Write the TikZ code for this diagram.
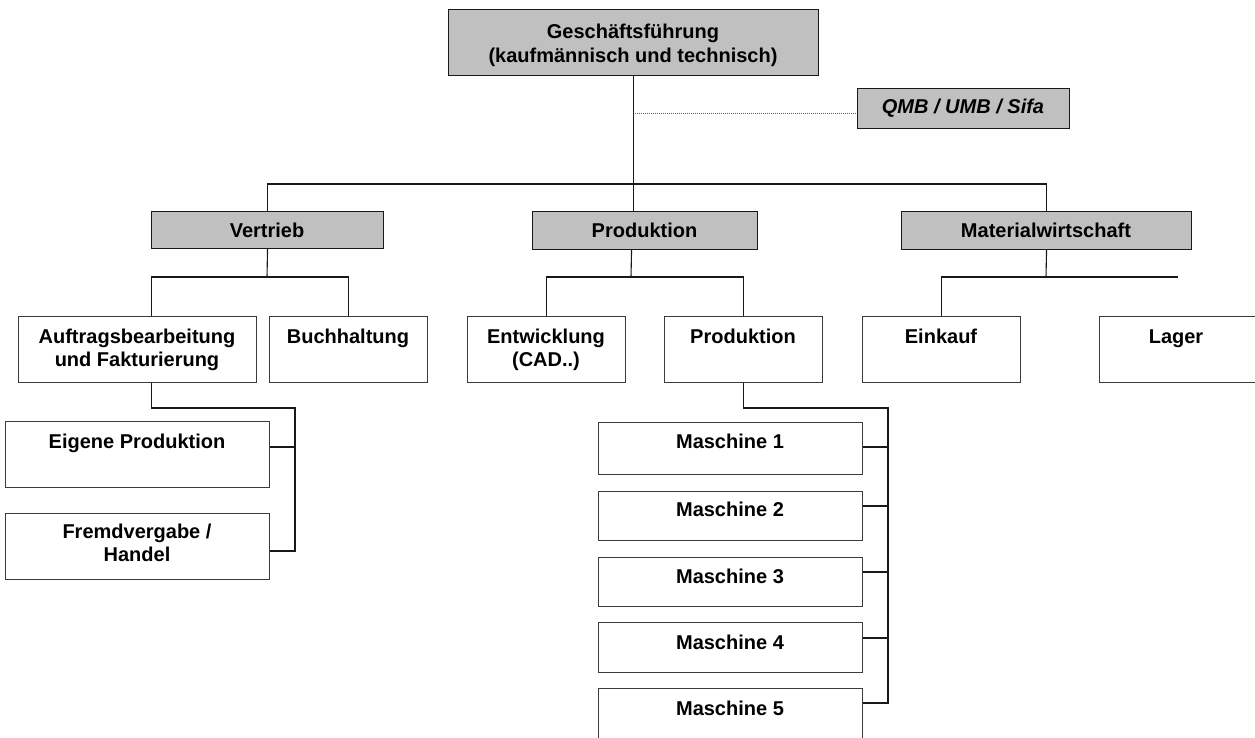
\documentclass[tikz,border=0pt]{standalone}
\usepackage{fontspec}
\setmainfont{Liberation Sans}
\definecolor{boxgray}{RGB}{192,192,192}
\definecolor{linec}{RGB}{25,25,25}
\tikzset{
  gbox/.style={draw=linec, fill=boxgray, line width=1.1pt, inner sep=0pt, anchor=north west},
  wbox/.style={draw=linec!85, fill=white, line width=1.1pt, inner sep=0pt, anchor=north west},
  txt/.style={anchor=north, inner sep=0pt, align=center, text=black,
    font=\fontsize{20}{23}\selectfont\bfseries},
  conn/.style={draw=linec, line width=1.1pt},
  dotline/.style={draw=linec!70, line width=0.9pt, dash pattern=on 1pt off 1pt},
}
\newcommand{\st}{\rule{0pt}{20pt}}
\begin{document}
\begin{tikzpicture}[x=1pt,y=-1pt]
\useasboundingbox (0,0) rectangle (1255,738);
\fill[white] (0,0) rectangle (1255,738);

% top
\node[gbox, minimum width=370pt, minimum height=66pt] (gf) at (448,9) {};
\node[txt] (gft) at (633,18) {\st Geschäftsführung\\[1pt](kaufmännisch und technisch)};
\node[gbox, minimum width=212pt, minimum height=40pt] (qmb) at (857,88) {};
\node[txt, font=\fontsize{20}{23}\selectfont\bfseries\itshape] (qmbt) at (963,93) {\st QMB / UMB / Sifa};

% level 2
\node[gbox, minimum width=232pt, minimum height=37pt] (vertrieb) at (151,211) {};
\node[txt] (vertriebt) at (267,217) {\st Vertrieb};
\node[gbox, minimum width=225pt, minimum height=38pt] (prod) at (532,211) {};
\node[txt] (prodt) at (644.5,217) {\st Produktion};
\node[gbox, minimum width=290pt, minimum height=38pt] (mat) at (901,211) {};
\node[txt] (matt) at (1046,217) {\st Materialwirtschaft};

% level 3
\node[wbox, minimum width=238pt, minimum height=66pt] (auftrag) at (18,316) {};
\node[txt] (auftragt) at (137,323) {\st Auftragsbearbeitung\\und Fakturierung};
\node[wbox, minimum width=158pt, minimum height=66pt] (buch) at (269,316) {};
\node[txt] (bucht) at (348,323) {\st Buchhaltung};
\node[wbox, minimum width=158pt, minimum height=66pt] (entw) at (467,316) {};
\node[txt] (entwt) at (546,323) {\st Entwicklung\\(CAD..)};
\node[wbox, minimum width=158pt, minimum height=66pt] (prod2) at (664,316) {};
\node[txt] (prod2t) at (743,323) {\st Produktion};
\node[wbox, minimum width=158pt, minimum height=66pt] (einkauf) at (862,316) {};
\node[txt] (einkauft) at (941,323) {\st Einkauf};
\node[wbox, minimum width=162pt, minimum height=66pt] (lager) at (1099,316) {};
\node[txt] (lagert) at (1176,323) {\st Lager};

% level 4 left
\node[wbox, minimum width=264pt, minimum height=66pt] (eigene) at (5,421) {};
\node[txt] (eigenet) at (137,428) {\st Eigene Produktion};
\node[wbox, minimum width=264pt, minimum height=66pt] (fremd) at (5,513) {};
\node[txt] (fremdt) at (137,518) {\st Fremdvergabe /\\Handel};

% machines
\node[wbox, minimum width=264pt, minimum height=52pt] (m1) at (598,422) {};
\node[txt] (m1t) at (730,428) {\st Maschine 1};
\node[wbox, minimum width=264pt, minimum height=49pt] (m2) at (598,491) {};
\node[txt] (m2t) at (730,496) {\st Maschine 2};
\node[wbox, minimum width=264pt, minimum height=49pt] (m3) at (598,557) {};
\node[txt] (m3t) at (730,563) {\st Maschine 3};
\node[wbox, minimum width=264pt, minimum height=50pt] (m4) at (598,622) {};
\node[txt] (m4t) at (730,629) {\st Maschine 4};
\node[wbox, minimum width=264pt, minimum height=50pt] (m5) at (598,688) {};
\node[txt] (m5t) at (730,695) {\st Maschine 5};

% connectors
\coordinate (bus2) at (633,184);
\draw[conn] (gf.south) -- (gf.south |- prod.north);
\draw[conn] (vertrieb.north) |- (bus2) -| (mat.north);
\coordinate (qdot) at (635,113);
\draw[dotline] (qdot) -- (qmb.west |- qdot);

\coordinate (vbus) at (267,277);
\draw[conn] (vertrieb.south) -- (vbus);
\draw[conn] ([xshift=14pt]auftrag.north) |- (vbus) -| (buch.north);

\coordinate (pbus) at (631,277);
\draw[conn] ([xshift=-13.5pt]prod.south) -- (pbus);
\draw[conn] (entw.north) |- (pbus) -| (prod2.north);

\coordinate (mbus) at (1046,277);
\coordinate (mfree) at (1178,277);
\draw[conn] (mat.south) -- (mbus);
\draw[conn] (einkauf.north) |- (mfree);

\coordinate (abus) at (295,408);
\draw[conn] ([xshift=14pt]auftrag.south) |- (abus) |- ([yshift=-38pt]fremd.north east);
\draw[conn] ([yshift=-26pt]eigene.north east) -| (abus);

\coordinate (pbus2) at (888,408);
\draw[conn] (prod2.south) |- (pbus2) |- ([yshift=-15pt]m5.north east);
\draw[conn] ([yshift=-25pt]m1.north east) -| (pbus2);
\draw[conn] ([yshift=-15pt]m2.north east) -| (pbus2);
\draw[conn] ([yshift=-15pt]m3.north east) -| (pbus2);
\draw[conn] ([yshift=-16pt]m4.north east) -| (pbus2);
\end{tikzpicture}
\end{document}
